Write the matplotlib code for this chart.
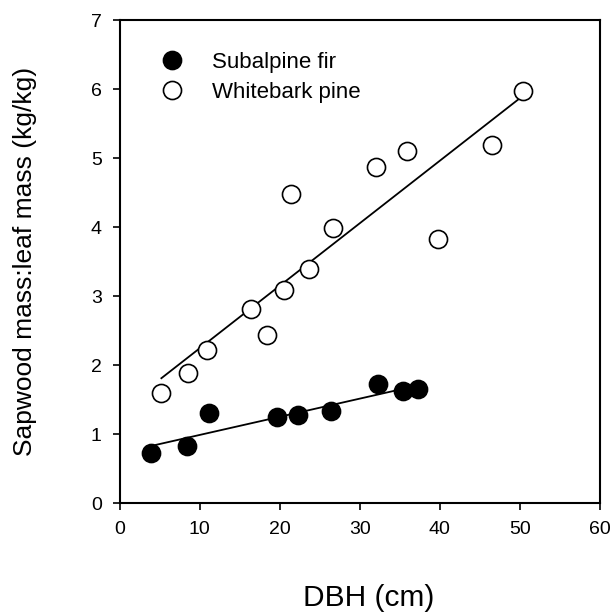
import matplotlib
matplotlib.use("Agg")
import matplotlib.pyplot as plt

plt.rcParams["font.family"] = ["Liberation Sans", "DejaVu Sans"]

# Subalpine fir (filled)
fir_dbh = [3.85, 8.45, 11.15, 19.7, 22.25, 26.4, 32.3, 35.4, 37.2]
fir_ratio = [0.72, 0.82, 1.30, 1.25, 1.28, 1.33, 1.73, 1.63, 1.66]
fir_fit_x = [4.0, 34.4]
fir_fit_y = [0.83, 1.63]

# Whitebark pine (open)
pine_dbh = [5.1, 8.55, 10.95, 16.45, 18.35, 20.55, 21.4, 23.7, 26.6,
            32.0, 35.9, 39.8, 46.5, 50.4]
pine_ratio = [1.59, 1.88, 2.22, 2.81, 2.43, 3.09, 4.48, 3.40, 3.99,
              4.87, 5.10, 3.83, 5.19, 5.98]
pine_fit_x = [5.2, 50.0]
pine_fit_y = [1.81, 5.87]

x_ticks = [0, 10, 20, 30, 40, 50, 60]
y_ticks = [0, 1, 2, 3, 4, 5, 6, 7]

fig = plt.figure(figsize=(6.11, 6.12), dpi=100)
ax = fig.add_axes([0.196, 0.178, 0.786, 0.789])

ax.plot(fir_fit_x, fir_fit_y, color="black", lw=1.3, zorder=1)
ax.plot(pine_fit_x, pine_fit_y, color="black", lw=1.3, zorder=1)
ax.plot(fir_dbh, fir_ratio, "o", ms=13, mfc="black", mec="black", mew=1.2,
        ls="none", label="Subalpine fir", zorder=3)
ax.plot(pine_dbh, pine_ratio, "o", ms=13, mfc="white", mec="black", mew=1.2,
        ls="none", label="Whitebark pine", zorder=3)

ax.set_xlim(0, 60)
ax.set_ylim(0, 7)
ax.set_xticks(x_ticks)
ax.set_yticks(y_ticks)
ax.tick_params(direction="out", length=5, width=1.2, labelsize=14, pad=8)
for s in ax.spines.values():
    s.set_linewidth(1.5)

ax.set_xlabel("DBH (cm)", fontsize=21.5)
ax.xaxis.set_label_coords(0.518, -0.167)
ax.set_ylabel("Sapwood mass:leaf mass (kg/kg)", fontsize=19, labelpad=39)

ax.legend(loc="upper left", bbox_to_anchor=(0.045, 0.975), frameon=False,
          fontsize=16, handlelength=1.0, handletextpad=1.3, labelspacing=0.39,
          markerscale=1.0)

fig.savefig("out.png", dpi=100)
